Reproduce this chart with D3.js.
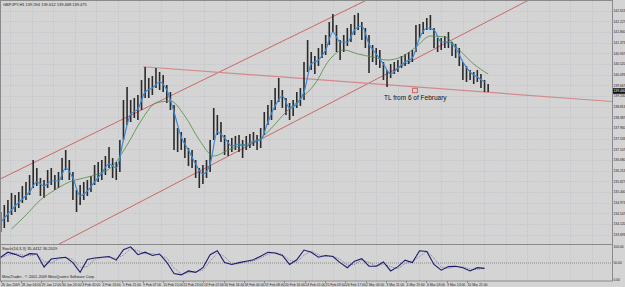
<!DOCTYPE html>
<html>
<head>
<meta charset="utf-8">
<script src="https://cdn.jsdelivr.net/npm/d3@7"></script>
<style>
  body { margin: 0; background: #d4d4d4; }
  svg { display: block; font-family: "Liberation Sans", Arial, sans-serif; }
</style>
</head>
<body>
<svg id="chart" width="625" height="287"></svg>
<script>
// GBPJPY H1, one entry every 6 bars (approx)
const highs = [134.60,134.88,135.08,135.36,135.28,135.40,135.64,135.80,136.08,136.68,
  136.36,135.96,135.88,136.28,136.36,136.08,136.20,136.76,137.08,136.68,
  136.20,135.48,135.68,135.80,135.88,136.04,136.48,136.60,136.68,136.84,
  137.20,136.76,136.60,137.48,139.08,139.60,139.08,139.16,139.28,139.88,
  140.40,139.96,140.04,140.36,140.20,140.08,139.68,139.40,138.88,137.96,
  137.80,137.56,137.16,137.08,136.68,136.36,136.48,136.68,137.48,138.76,
  138.48,138.20,137.68,137.48,137.56,137.64,137.68,137.48,137.64,137.72,
  137.80,137.68,137.96,138.60,138.88,139.08,139.56,139.96,139.48,139.16,
  138.96,139.08,139.40,139.56,140.60,141.48,141.00,140.84,141.16,141.32,
  141.68,142.20,142.52,142.08,141.48,141.68,141.96,142.12,142.48,142.56,
  142.20,141.96,141.68,141.28,141.16,141.08,140.60,140.28,140.52,140.60,
  140.68,140.84,140.92,141.00,141.08,142.08,142.12,142.20,142.36,142.48,
  141.96,141.56,141.56,141.64,141.80,141.40,141.32,141.16,140.60,140.44,
  140.28,140.20,140.28,140.12,139.88,139.72];
const lows = [133.80,133.96,134.20,134.48,134.60,134.76,134.96,135.08,135.28,135.56,
  135.64,135.24,135.16,135.56,135.68,135.48,135.56,135.88,136.28,135.88,
  135.08,134.60,134.88,135.08,135.24,135.40,135.68,135.80,135.88,136.08,
  136.36,135.96,135.88,136.20,137.48,138.08,138.20,138.36,138.28,138.68,
  139.16,139.16,139.28,139.56,139.48,139.40,138.96,138.68,137.08,137.00,
  137.08,136.76,136.44,136.36,135.96,135.56,135.72,135.96,136.20,137.48,
  137.68,137.40,136.88,136.84,137.00,137.08,137.00,136.76,137.08,137.16,
  137.24,137.08,137.16,137.68,138.08,138.28,138.68,139.00,138.76,138.48,
  138.28,138.44,138.76,138.84,139.08,140.20,140.28,140.12,140.44,140.76,
  140.88,141.28,141.80,141.00,140.68,141.00,141.24,141.40,141.68,141.88,
  141.48,141.16,140.16,140.60,140.48,140.36,139.88,139.60,139.96,140.12,
  140.20,140.36,140.44,140.52,140.60,141.00,141.56,141.72,141.88,141.88,
  141.16,141.00,141.08,141.16,141.16,140.84,140.76,140.44,139.88,139.80,
  139.88,139.72,139.80,139.56,139.40,139.40];
// fast MA (blue), every 2nd entry
const fastMA = [134.20,134.52,134.84,135.12,135.40,135.80,135.64,135.84,135.84,136.36,
  135.96,135.24,135.44,135.80,136.16,136.52,136.36,137.48,138.52,138.72,
  139.40,139.56,139.80,139.48,138.60,137.60,137.08,136.52,136.12,136.52,
  137.80,137.56,137.24,137.32,137.24,137.44,137.48,138.20,138.84,139.24,
  138.76,138.92,139.40,140.52,140.68,141.08,141.80,141.40,141.40,141.88,
  142.04,141.32,140.92,140.52,140.12,140.36,140.60,140.76,141.56,141.96,
  141.88,141.40,141.40,141.16,140.60,140.20,140.00,139.80];
// slow MA (green), every 4th entry starting at the 4th
const slowMA = [133.92,134.48,135.08,135.48,135.80,135.96,136.12,136.44,137.28,138.28,
  138.96,139.04,138.44,137.48,136.84,137.08,137.28,137.44,137.96,138.60,
  139.12,139.72,140.68,141.08,140.92,140.80,140.68,140.80,141.20,141.64,
  141.60,141.08,140.52,140.12];
// stochastic main and signal, every 2nd entry
const stochMain = [66,80,74,66,76,75,39,61,64,66,51,24,60,64,66,68,58,87,95,73,
  80,71,75,52,21,17,28,24,37,73,84,51,46,51,55,59,69,80,78,71,
  46,59,86,80,66,71,68,51,37,55,62,41,41,53,28,40,58,51,84,82,
  46,30,40,41,37,28,37,35];
const stochSignal = [64,72,76,72,70,74,55,50,62,65,60,38,40,60,65,66,63,72,90,84,
  76,76,72,64,36,20,23,26,30,55,78,68,48,48,53,56,64,74,79,74,
  58,52,72,83,73,68,69,60,44,46,58,52,41,47,40,34,49,54,68,83,
  64,38,35,40,39,33,32,36];
const priceTicks = [142.653,142.227,141.800,141.373,140.947,140.520,140.093,139.667,139.240,138.813,
  138.387,137.960,137.533,137.107,136.680,136.253,135.827,135.400,134.973,134.547,134.120,133.693];
const dateLabels = ["26 Jan 2009","28 Jan 04:00","29 Jan 12:00","30 Jan 20:00","3 Feb 05:00","4 Feb 13:00",
  "5 Feb 21:00","9 Feb 07:00","10 Feb 15:00","11 Feb 23:00","13 Feb 07:00","16 Feb 16:00",
  "18 Feb 00:00","19 Feb 08:00","20 Feb 16:00","24 Feb 01:00","25 Feb 09:00","26 Feb 17:00",
  "2 Mar 03:00","3 Mar 11:00","4 Mar 19:00","6 Mar 03:00","9 Mar 13:00","10 Mar 21:00"];
const stochLevels = [100, 50, 0];
// trend lines as [hour, price] anchor pairs
const upperChannel = [[0, 135.93], [578, 143.08]];
const lowerChannel = [[157, 134.17], [788, 142.48]];
const tlFeb6 = [[225, 140.41], [965, 139.02]];
const tlLabel = {hour: 654, price: 139.46, text: "TL from 6 of February"};
const lastPrice = 139.44;

const hoursPerBar = 5.7;
const hoursPerLabel = 32;

const svg = d3.select("#chart");
const W = 625, plotRight = 612;
const mainTop = 1, mainBottom = 244, stTop = 245, stBottom = 281;

svg.append("rect").attr("width", W).attr("height", 287).attr("fill", "#d4d4d4");

const x = d3.scaleLinear().domain([0, 965]).range([0.7, plotRight]);
const y = d3.scaleLinear().domain([133.32, 143.08]).range([mainBottom, 0]);
const ys = d3.scaleLinear().domain([0, 100]).range([stBottom, stTop]);

// grid
const grid = svg.append("g").attr("stroke", "#b3b7c6").attr("stroke-width", 0.6)
  .attr("stroke-dasharray", "1,1.5");
grid.selectAll("line.h").data(priceTicks).enter().append("line")
  .attr("x1", 0).attr("x2", plotRight)
  .attr("y1", d => Math.round(y(d)) + 0.5).attr("y2", d => Math.round(y(d)) + 0.5);
const gridHours = d3.range(15, 965, 34);
grid.selectAll("line.v").data(gridHours).enter().append("line")
  .attr("x1", d => Math.round(x(d)) + 0.5).attr("x2", d => Math.round(x(d)) + 0.5)
  .attr("y1", mainTop).attr("y2", mainBottom);
grid.selectAll("line.vs").data(gridHours).enter().append("line")
  .attr("x1", d => Math.round(x(d)) + 0.5).attr("x2", d => Math.round(x(d)) + 0.5)
  .attr("y1", stTop).attr("y2", stBottom);

svg.append("clipPath").attr("id", "mainClip").append("rect")
  .attr("x", 0).attr("y", mainTop).attr("width", plotRight).attr("height", mainBottom - mainTop);
const main = svg.append("g").attr("clip-path", "url(#mainClip)");

// trend lines, extended over the whole range
function ray(pts, bothWays) {
  const [a, b] = pts;
  const slope = (b[1] - a[1]) / (b[0] - a[0]);
  const h0 = bothWays ? -200 : a[0], h1 = 1100;
  return [[h0, a[1] + slope * (h0 - a[0])], [h1, a[1] + slope * (h1 - a[0])]];
}
const tline = d3.line().x(d => x(d[0])).y(d => y(d[1]));
main.append("path").attr("d", tline(ray(upperChannel, true)))
  .attr("fill", "none").attr("stroke", "#cc5a5a").attr("stroke-width", 0.9);
main.append("path").attr("d", tline(ray(lowerChannel, true)))
  .attr("fill", "none").attr("stroke", "#cc5a5a").attr("stroke-width", 0.9);
main.append("path").attr("d", tline(ray(tlFeb6, false)))
  .attr("fill", "none").attr("stroke", "#d4898c").attr("stroke-width", 1.2);

// bars
main.append("g").selectAll("line").data(highs).enter().append("line")
  .attr("x1", (d, i) => x(i * hoursPerBar)).attr("x2", (d, i) => x(i * hoursPerBar))
  .attr("y1", d => y(d)).attr("y2", (d, i) => y(lows[i]))
  .attr("stroke", "#2a2a2a").attr("stroke-width", 1.6);

// moving averages
main.append("path")
  .attr("d", d3.line().curve(d3.curveMonotoneX)
    .x((d, i) => x((3 + i * 4) * hoursPerBar)).y(d => y(d))(slowMA))
  .attr("fill", "none").attr("stroke", "#4f8a45").attr("stroke-width", 0.8);
main.append("path")
  .attr("d", d3.line().curve(d3.curveMonotoneX)
    .x((d, i) => x(i * 2 * hoursPerBar)).y(d => y(d))(fastMA))
  .attr("fill", "none").attr("stroke", "#3b8ad6").attr("stroke-width", 1.2);

// TL label
const mx = x(tlLabel.hour), my = y(tlLabel.price);
svg.append("rect").attr("x", mx - 2.3).attr("y", my - 2.3).attr("width", 4.6).attr("height", 4.6)
  .attr("fill", "none").attr("stroke", "#cc3333").attr("stroke-width", 0.7);
svg.append("text").attr("x", mx - 31).attr("y", my + 9.5)
  .attr("font-size", 6.5).attr("fill", "#111").text(tlLabel.text);

// panel frames
svg.append("rect").attr("x", 0.5).attr("y", 0.5).attr("width", plotRight).attr("height", mainBottom)
  .attr("fill", "none").attr("stroke", "#8a8a8a").attr("stroke-width", 1);
svg.append("rect").attr("x", 0.5).attr("y", stTop - 0.5).attr("width", plotRight).attr("height", stBottom - stTop + 0.5)
  .attr("fill", "none").attr("stroke", "#8a8a8a").attr("stroke-width", 1);

// price axis labels
svg.append("g").selectAll("text").data(priceTicks).enter().append("text")
  .attr("x", plotRight + 1.5).attr("y", d => y(d) + 1.2)
  .attr("font-size", 3.3).attr("fill", "#222").text(d => d.toFixed(3));
svg.append("rect").attr("x", plotRight + 1).attr("y", y(lastPrice) - 2.8)
  .attr("width", W - plotRight).attr("height", 5.6).attr("fill", "#111");
svg.append("text").attr("x", plotRight + 1.5).attr("y", y(lastPrice) + 1.2)
  .attr("font-size", 3.3).attr("fill", "#fff").text(lastPrice.toFixed(3));

// header
svg.append("text").attr("x", 3).attr("y", 6).attr("font-size", 4).attr("fill", "#222")
  .text("GBPJPY,H1  139.594 139.612 139.468 139.475");

// stochastic panel
svg.append("line").attr("x1", 0).attr("x2", plotRight)
  .attr("y1", ys(50)).attr("y2", ys(50))
  .attr("stroke", "#555").attr("stroke-width", 0.6).attr("stroke-dasharray", "1,1");
const sLine = d3.line().x((d, i) => x(i * 2 * hoursPerBar)).y(d => ys(d));
svg.append("path").attr("d", sLine(stochSignal)).attr("fill", "none")
  .attr("stroke", "#6a6a8a").attr("stroke-width", 0.8).attr("stroke-dasharray", "1,1");
svg.append("path").attr("d", sLine(stochMain)).attr("fill", "none")
  .attr("stroke", "#1b1b6e").attr("stroke-width", 1.1);
svg.append("text").attr("x", 2).attr("y", 249.5).attr("font-size", 4).attr("fill", "#222")
  .text("Stoch(14,3,3) 35.4412 36.2019");
svg.append("text").attr("x", 2).attr("y", 278).attr("font-size", 3.8).attr("fill", "#222")
  .text("MetaTrader - \u00a9 2001-2009 MetaQuotes Software Corp.");
svg.append("g").selectAll("text").data(stochLevels).enter().append("text")
  .attr("x", plotRight + 1.5).attr("y", d => Math.min(Math.max(ys(d) + 1.2, stTop + 3), stBottom))
  .attr("font-size", 3.3).attr("fill", "#222").text(d => d.toFixed(2));

// time axis
const dates = svg.append("g");
dates.selectAll("line").data(dateLabels).enter().append("line")
  .attr("x1", (d, i) => Math.round(x(i * hoursPerLabel)) + 0.5)
  .attr("x2", (d, i) => Math.round(x(i * hoursPerLabel)) + 0.5)
  .attr("y1", stBottom).attr("y2", stBottom + 2).attr("stroke", "#666").attr("stroke-width", 0.6);
dates.selectAll("text").data(dateLabels).enter().append("text")
  .attr("x", (d, i) => x(i * hoursPerLabel) + 0.5).attr("y", 285.5)
  .attr("font-size", 3.4).attr("fill", "#222").text(d => d);
</script>
</body>
</html>
